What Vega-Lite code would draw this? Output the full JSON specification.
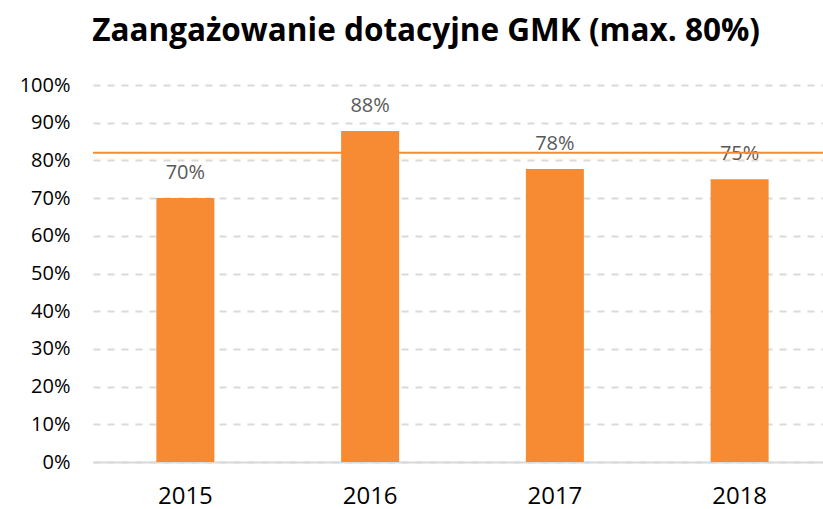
{
  "$schema": "https://vega.github.io/schema/vega-lite/v6.json",
  "width": 739,
  "height": 377,
  "autosize": {"type": "none"},
  "padding": {"left": 93, "top": 85, "right": 0, "bottom": 47},
  "background": "white",
  "title": {
    "text": "Zaangażowanie dotacyjne GMK (max. 80%)",
    "font": "Open Sans",
    "fontSize": 31.5,
    "fontWeight": "bold",
    "color": "#000000",
    "anchor": "middle",
    "frame": "bounds",
    "offset": 28
  },
  "config": {
    "view": {"stroke": null},
    "font": "Open Sans",
    "axis": {"labelOverlap": false},
    "axisY": {"labelOverlap": false}
  },
  "data": {
    "values": [
      {"year": "2015", "value": 0.70, "label": "70%"},
      {"year": "2016", "value": 0.878, "label": "88%"},
      {"year": "2017", "value": 0.777, "label": "78%"},
      {"year": "2018", "value": 0.75, "label": "75%"}
    ]
  },
  "encoding": {
    "x": {
      "field": "year",
      "type": "nominal",
      "sort": null,
      "scale": {"paddingInner": 0.686, "paddingOuter": 0.343},
      "axis": {
        "title": null,
        "labelAngle": 0,
        "labelFont": "Open Sans",
        "labelFontSize": 24,
        "labelColor": "#000000",
        "labelPadding": 22,
        "ticks": false,
        "domain": true,
        "domainColor": "#D9D9D9",
        "domainWidth": 2,
        "grid": false
      }
    },
    "y": {
      "field": "value",
      "type": "quantitative",
      "scale": {"domain": [0, 1], "nice": false},
      "axis": {
        "title": null,
        "values": [0, 0.1, 0.2, 0.3, 0.4, 0.5, 0.6, 0.7, 0.8, 0.9, 1.0],
        "format": ".0%",
        "labelOverlap": false,
        "labelFont": "Open Sans",
        "labelFontSize": 20,
        "labelColor": "#000000",
        "labelPadding": 23,
        "ticks": false,
        "domain": false,
        "grid": true,
        "gridColor": "#D9D9D9",
        "gridWidth": 2,
        "gridDash": [7, 7]
      }
    }
  },
  "layer": [
    {
      "mark": {"type": "bar", "color": "#F68B33"}
    },
    {
      "mark": {"type": "text", "dy": -25, "baseline": "middle", "font": "Open Sans", "fontSize": 20, "color": "#595959"},
      "encoding": {
        "text": {"field": "label"}
      }
    },
    {
      "data": {"values": [{"limit": 0.82}]},
      "mark": {"type": "rule", "color": "#F68B33", "strokeWidth": 2},
      "encoding": {
        "x": null,
        "y": {"field": "limit", "type": "quantitative"}
      }
    }
  ]
}
